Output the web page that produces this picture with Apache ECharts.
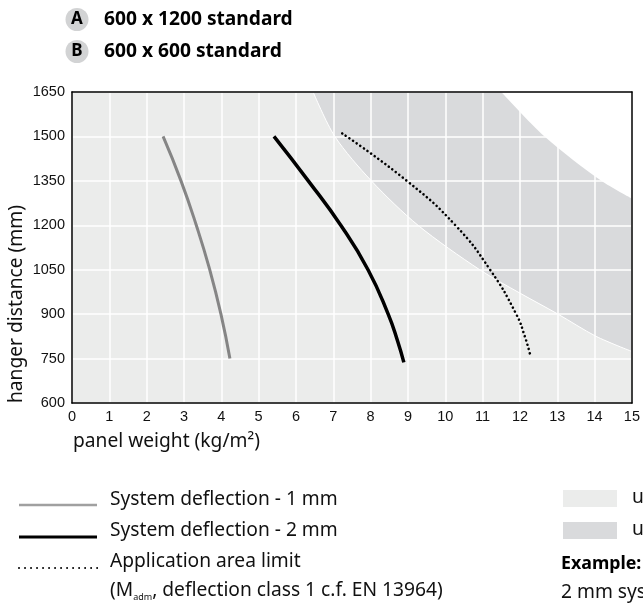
<!DOCTYPE html>
<html>
<head>
<meta charset="utf-8">
<script src="https://cdn.jsdelivr.net/npm/echarts@6/dist/echarts.min.js"></script>
<style>
  html, body { margin: 0; padding: 0; background: #ffffff; }
  #chart { width: 643px; height: 605px; }
</style>
</head>
<body>
<div id="chart"></div>
<script>
// Axis ranges and ticks
const xMin = 0, xMax = 15, xStep = 1;
const yMin = 600, yMax = 1650, yStep = 150;

// Curves: [panel weight (kg/m²), hanger distance (mm)]
const deflection1mm = [[2.44, 1500], [2.92, 1350], [3.33, 1200], [3.69, 1050], [3.99, 900], [4.23, 750]];
const deflection2mm = [[5.41, 1500], [6.33, 1350], [7.2, 1200], [7.93, 1050], [8.47, 900], [8.72, 810], [8.89, 737]];
const applicationLimit = [[7.24, 1510], [8.97, 1350], [10.27, 1200], [11.2, 1050], [11.9, 900], [12.13, 825], [12.28, 760]];

// Usage area boundaries (each area reaches from its curve up to the top of the chart)
const area600x600Bound = [[6.46, 1650], [7.04, 1500], [8.02, 1350], [9.27, 1200], [10.92, 1050], [12.0, 971], [13.02, 900], [14.04, 825], [15, 774]];
const outsideBound = [[11.5, 1650], [12.66, 1500], [14.18, 1350], [15, 1290]];

// Text
const titleA = '600 x 1200 standard';
const titleB = '600 x 600 standard';
const xName = 'panel weight (kg/m²)';
const yName = 'hanger distance (mm)';
const legend1 = 'System deflection - 1 mm';
const legend2 = 'System deflection - 2 mm';
const legend3 = 'Application area limit';

const LIGHT = '#ebeceb';
const DARK = '#d9dadc';
const BODY_FONT = '"Noto Sans", "Open Sans", sans-serif';
const TICK_FONT = '"Liberation Sans Narrow", "Liberation Sans", Arial, sans-serif';
const FS = 19.2;

const chart = echarts.init(document.getElementById('chart'), null, { renderer: 'canvas' });

function boundaryFill(data, color, lineColor) {
  return {
    type: 'line',
    data: data,
    smooth: 0.3,
    showSymbol: false,
    silent: true,
    z: 2,
    lineStyle: { color: lineColor, width: lineColor === 'none' ? 0 : 1 },
    areaStyle: { color: color, opacity: 1, origin: 'end' }
  };
}

function curve(data, color, width, type) {
  return {
    type: 'line',
    data: data,
    smooth: 0.5,
    showSymbol: false,
    silent: true,
    z: 20,
    lineStyle: { color: color, width: width, type: type || 'solid', cap: type ? 'round' : 'butt' }
  };
}

const tickLabel = { fontFamily: TICK_FONT, fontSize: 14.5, color: '#111', formatter: (v) => String(v) };
const txt = (x, y, text, extra) => ({
  type: 'text', x: x, y: y,
  style: Object.assign({ text: text, fontFamily: BODY_FONT, fontSize: FS, fill: '#111', verticalAlign: 'middle' }, extra || {})
});

chart.setOption({
  animation: false,
  grid: {
    left: 72, right: 11, top: 92, bottom: 202,
    show: true, backgroundColor: LIGHT, borderWidth: 0, z: 0
  },
  xAxis: [{
    type: 'value', min: xMin, max: xMax, interval: xStep, z: 10,
    axisLine: { show: true, lineStyle: { color: '#000', width: 1.5 } },
    axisTick: { show: false },
    axisLabel: Object.assign({ margin: 6 }, tickLabel),
    splitLine: { show: true, lineStyle: { color: '#ffffff', width: 1.5 } }
  }, {
    type: 'value', min: xMin, max: xMax, position: 'top', z: 10,
    axisLine: { show: true, onZero: false, lineStyle: { color: '#000', width: 1.5 } },
    axisTick: { show: false }, axisLabel: { show: false }, splitLine: { show: false }
  }],
  yAxis: [{
    type: 'value', min: yMin, max: yMax, interval: yStep, z: 10,
    axisLine: { show: true, lineStyle: { color: '#000', width: 1.5 } },
    axisTick: { show: false },
    axisLabel: Object.assign({ margin: 7 }, tickLabel),
    splitLine: { show: true, lineStyle: { color: '#ffffff', width: 1.5 } }
  }, {
    type: 'value', min: yMin, max: yMax, position: 'right', z: 10,
    axisLine: { show: true, onZero: false, lineStyle: { color: '#000', width: 1.5 } },
    axisTick: { show: false }, axisLabel: { show: false }, splitLine: { show: false }
  }],
  series: [
    boundaryFill(area600x600Bound, DARK, '#ffffff'),
    boundaryFill(outsideBound, '#ffffff', 'none'),
    curve(deflection1mm, '#858585', 3),
    curve(deflection2mm, '#000000', 3.5),
    curve(applicationLimit, '#000000', 2.6, [0.01, 4.4])
  ],
  graphic: [
    // header badges
    { type: 'circle', shape: { cx: 77, cy: 19.5, r: 11.5 }, style: { fill: '#d2d3d4' } },
    txt(77, 19.5, 'A', { fontWeight: 'bold', fontSize: 17, fill: '#000', align: 'center' }),
    txt(104, 19.5, titleA, { fontWeight: 'bold', fill: '#000' }),
    { type: 'circle', shape: { cx: 77, cy: 51.5, r: 11.5 }, style: { fill: '#d2d3d4' } },
    txt(77, 51.5, 'B', { fontWeight: 'bold', fontSize: 17, fill: '#000', align: 'center' }),
    txt(104, 51.5, titleB, { fontWeight: 'bold', fill: '#000' }),

    // axis names
    txt(73, 442, xName),
    Object.assign(txt(17, 403, yName, { align: 'left' }), { rotation: Math.PI / 2 }),

    // line legend
    { type: 'line', shape: { x1: 19, y1: 505, x2: 97, y2: 505 }, style: { stroke: '#a0a0a0', lineWidth: 2.5 } },
    txt(110, 500, legend1),
    { type: 'line', shape: { x1: 19, y1: 537, x2: 97, y2: 537 }, style: { stroke: '#000', lineWidth: 3 } },
    txt(110, 531, legend2),
    { type: 'line', shape: { x1: 19, y1: 568, x2: 98, y2: 568 }, style: { stroke: '#000', lineWidth: 2, lineDash: [0.01, 6], lineCap: 'round' } },
    txt(110, 561.5, legend3),
    txt(110, 591, '(M{sub|adm}, deflection class 1 c.f. EN 13964)', {
      rich: { sub: { fontFamily: BODY_FONT, fontSize: 9, fill: '#111', padding: [12, 0, 0, 0] } }
    }),

    // area legend
    { type: 'rect', shape: { x: 563, y: 490, width: 54, height: 17 }, style: { fill: LIGHT } },
    txt(632, 498, 'usage'),
    { type: 'rect', shape: { x: 563, y: 522, width: 54, height: 17 }, style: { fill: DARK } },
    txt(632, 530, 'usage'),
    txt(561, 564, 'Example:', { fontWeight: 'bold', fontSize: 17.8, fill: '#000' }),
    txt(561, 593, '2 mm system deflection')
  ]
});
</script>
</body>
</html>
